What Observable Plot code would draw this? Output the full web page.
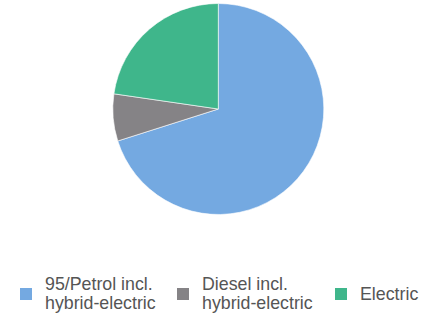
<!DOCTYPE html>
<html>
<head>
<meta charset="utf-8">
<script src="https://cdn.jsdelivr.net/npm/d3@7"></script>
<script src="https://cdn.jsdelivr.net/npm/@observablehq/plot@0.6"></script>
<style>
  html, body { margin: 0; padding: 0; background: #fff; }
  #chart { position: relative; width: 430px; height: 318px; overflow: hidden; font-family: "Liberation Sans", Arial, sans-serif; }
  .item { position: absolute; display: flex; align-items: center; color: #555; font-size: 17.8px; line-height: 19px; }
  .sw { width: 12px; height: 12px; flex: none; margin-right: 13px; }
</style>
</head>
<body>
<div id="chart"></div>
<script>
const categories = ["95/Petrol incl. hybrid-electric", "Diesel incl. hybrid-electric", "Electric"];
const labelLines = [["95/Petrol incl.", "hybrid-electric"], ["Diesel incl.", "hybrid-electric"], ["Electric"]];
const shares = [70.1, 7.2, 22.7];
const colors = ["#74a9e1", "#858386", "#3fb68b"];

const data = categories.map((c, i) => ({category: c, value: shares[i]}));
const color = Plot.scale({color: {type: "ordinal", domain: categories, range: colors}});

const W = 430, H = 220;
const pieMark = (index, scales, values, dims) => {
  const cx = scales.x(0), cy = scales.y(0);
  const r = Math.abs(scales.x(1) - scales.x(0));
  const arcs = d3.pie().sort(null).value(d => d.value)(data);
  const arc = d3.arc().innerRadius(0).outerRadius(r);
  const g = d3.create("svg:g").attr("transform", `translate(${cx},${cy})`);
  g.selectAll("path").data(arcs).join("path")
    .attr("d", arc)
    .attr("fill", d => color.apply(d.data.category))
    .attr("stroke", "#fff")
    .attr("stroke-width", 0.6);
  return g.node();
};

const plot = Plot.plot({
  width: W,
  height: H,
  marginLeft: 112.8,
  marginRight: 106.2,
  marginTop: 3.5,
  marginBottom: 5.5,
  x: {domain: [-1, 1], axis: null},
  y: {domain: [-1, 1], axis: null},
  marks: [pieMark]
});
plot.style.position = "absolute";
plot.style.left = "0px";
plot.style.top = "0px";
const chart = document.getElementById("chart");
chart.appendChild(plot);

const lefts = [20, 177, 335];
categories.forEach((c, i) => {
  const item = document.createElement("div");
  item.className = "item";
  item.style.left = lefts[i] + "px";
  item.style.top = "274px";
  item.style.height = "40px";
  const sw = document.createElement("div");
  sw.className = "sw";
  sw.style.background = color.apply(c);
  const txt = document.createElement("div");
  txt.innerHTML = labelLines[i].join("<br>");
  item.appendChild(sw);
  item.appendChild(txt);
  chart.appendChild(item);
});
</script>
</body>
</html>
